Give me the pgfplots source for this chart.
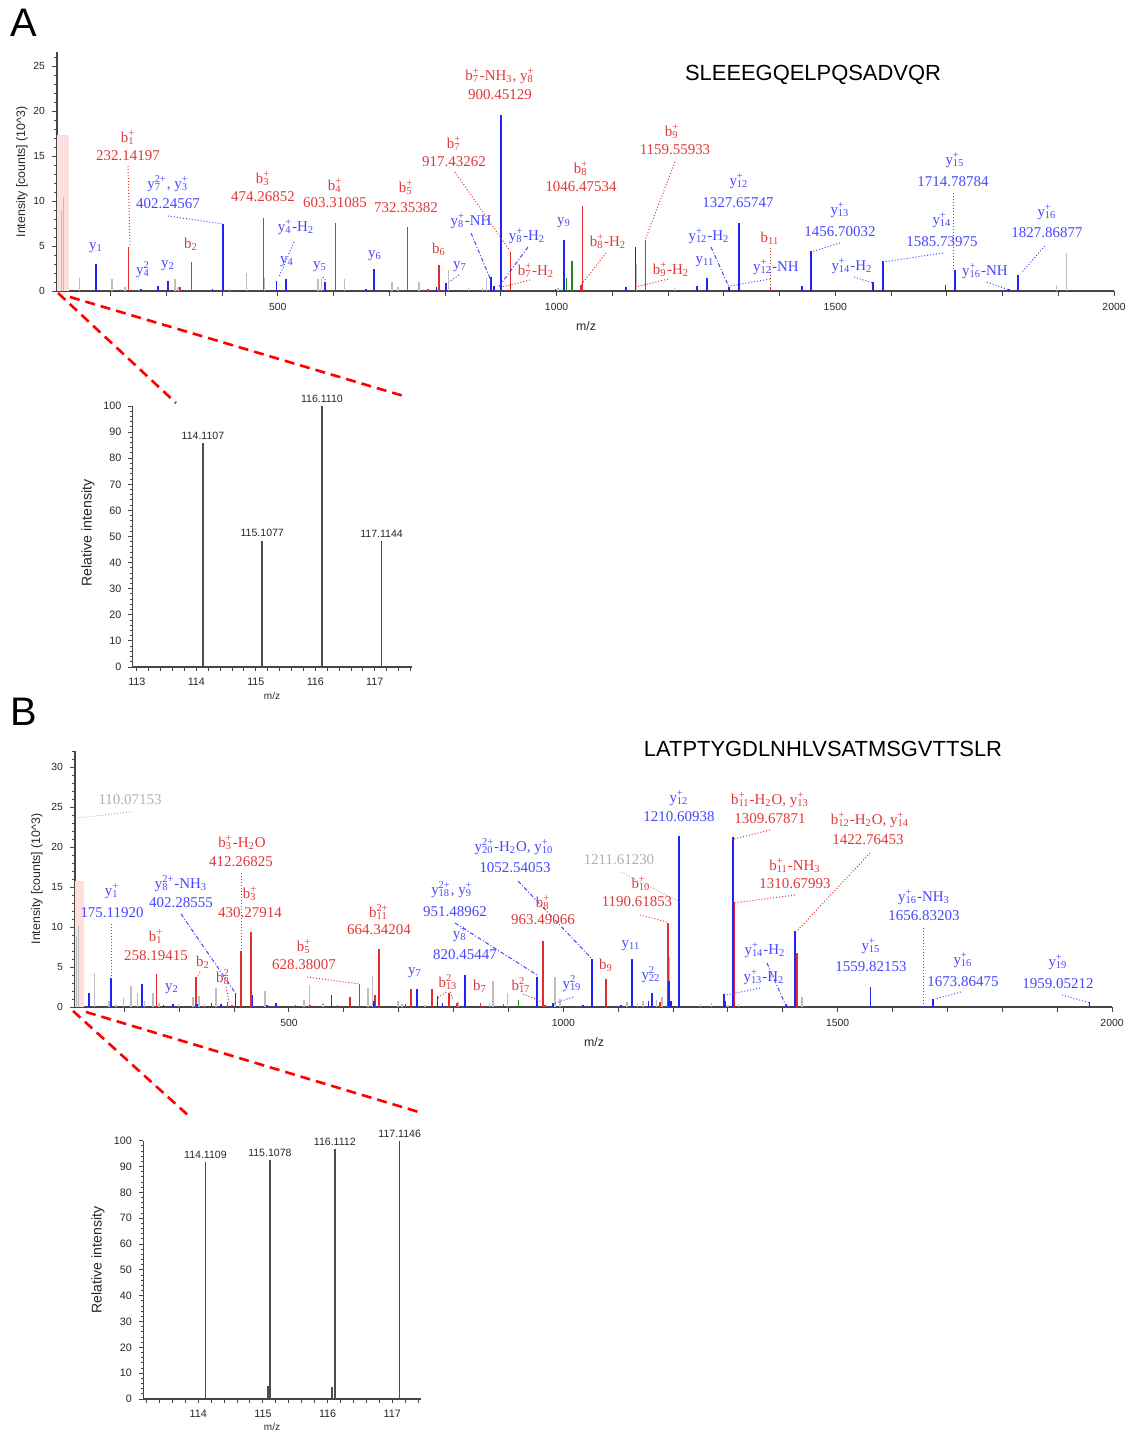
\documentclass[border=0pt]{standalone}
\usepackage{pgfplots}
\pgfplotsset{compat=1.18}
\usepackage{fontspec}
\setmainfont{Liberation Sans}
\newfontfamily\annfont{Liberation Serif}
\definecolor{ionblue}{RGB}{35,35,245}
\definecolor{ionred}{RGB}{225,45,45}
\definecolor{iongrey}{RGB}{190,190,190}
\definecolor{iongreen}{RGB}{30,140,30}
\definecolor{axgrey}{RGB}{70,70,70}
\definecolor{pinkbg}{RGB}{255,222,222}
\definecolor{txtblue}{RGB}{70,70,255}
\definecolor{txtred}{RGB}{225,55,55}
\definecolor{txtgrey}{RGB}{175,175,175}
\NewCommandCopy\oldsub\textsubscript
\NewCommandCopy\oldsup\textsuperscript
\RenewDocumentCommand\textsubscript{m}{\smash{\oldsub{#1}}}
\RenewDocumentCommand\textsuperscript{m}{\smash{\oldsup{#1}}}
\newcommand\sbsp[2]{\setbox0\hbox{\textsubscript{#1}}\setbox2\hbox{\textsuperscript{#2}}\ifdim\wd0>\wd2 \rlap{\copy2}\copy0\else\rlap{\copy0}\copy2\fi}
\pgfplotsset{
 msaxis/.style={scale only axis, axis lines=left, axis line style={axgrey,line width=0.6bp,-},
   tick style={axgrey,line width=0.5bp}, tick align=outside, major tick length=2.5bp, minor tick length=1.5bp,
   clip=false, ymin=0, tick label style={font=\fontsize{5.2}{6}\selectfont, text=black!85}},
 inaxis/.style={msaxis, major tick length=2.2bp, minor tick length=1.4bp,
   tick label style={font=\fontsize{5.4}{6}\selectfont, text=black!85}},
 gpk/.style={ycomb, no marks, iongrey, line width=0.7bp},
 rpk/.style={ycomb, no marks, ionred, line width=0.8bp},
 bpk/.style={ycomb, no marks, ionblue, line width=0.8bp},
 npk/.style={ycomb, no marks, iongreen, line width=0.8bp},
 ipk/.style={ycomb, no marks, black!70, line width=0.8bp},
}
\tikzset{
 ann/.style={font=\annfont\fontsize{7.5}{8}\selectfont, inner sep=0pt, anchor=center},
 rl/.style={ann, text=txtred}, bl/.style={ann, text=txtblue}, gl/.style={ann, text=txtgrey},
 rld/.style={txtred, densely dotted, line width=0.5bp},
 bld/.style={txtblue, densely dotted, line width=0.5bp},
 bldd/.style={txtblue, dash pattern=on 2bp off 1bp on 0.5bp off 1bp, line width=0.5bp},
 gld/.style={txtgrey, densely dotted, line width=0.5bp},
 zoomln/.style={red, line width=1.3bp, dash pattern=on 5bp off 3bp},
 lab/.style={inner sep=0pt, font=\fontsize{6.2}{7}\selectfont, text=black!85},
 ilab/.style={inner sep=0pt, font=\fontsize{7.1}{8}\selectfont, text=black!85},
}
\begin{document}
\begin{tikzpicture}
\useasboundingbox (0,0) rectangle (564.5bp,-716bp);
% ================= A main =================
\begin{axis}[msaxis, at={(28.5bp,-145.5bp)}, anchor=south west, width=528.5bp, height=119.5bp,
  xmin=104, xmax=2000, ymax=26.56,
  xtick={200,300,...,2000}, xticklabels={,,,500,,,,,1000,,,,,1500,,,,,2000},
  ytick={0,5,...,25}, yticklabels={0,5,10,15,20,25}, minor ytick={1,...,26}]
\addplot[draw=none, fill=pinkbg] coordinates {(104,17.3) (125,17.3)} \closedcycle;
\addplot[gpk] coordinates {(112,9.0)(116,10.5)(144,1.5)(203,1.3)(226,0.4)(250,0.2)(316,1.3)(321,0.4)(413,0.2)(444,2.0)(476,1.4)(572,1.3)(578,1.5)(620,1.3)(705,1.0)(716,0.5)(753,1.0)(806,2.3)(842,0.3)(867,0.3)(874,1.5)(1003,0.3)(1144,3.0)(1212,0.3)(1897,0.7)(1915,4.2)};
\addplot[rpk] coordinates {(232.14,4.9)(325,0.4)(345,3.2)(474.27,8.15)(603.31,7.6)(732.35,7.1)(770,0.2)(789,2.9)(917.43,4.3)(1027,0.8)(1044,0.7)(1046.48,9.4)(1159.56,5.7)(1384,0.3)};
\addplot[bpk] coordinates {(174,3.0)(255,0.2)(285,0.6)(303.2,1.15)(383,0.2)(402.25,7.45)(498,1.1)(515,1.35)(585,1.0)(658,0.2)(673,2.4)(785,0.5)(802,0.9)(883,1.6)(888,0.6)(900.45,19.55)(998,0.2)(1013,5.7)(1125,0.4)(1142,4.85)(1252,0.6)(1270,1.4)(1309,0.4)(1327.66,7.6)(1440,0.6)(1456.70,4.4)(1568,1.0)(1585.74,3.3)(1698,0.7)(1714.79,2.3)(1812,0.2)(1827.87,1.8)};
\addplot[npk] coordinates {(1018,1.4)(1028,3.3)};
\end{axis}
% ================= A inset =================
\begin{axis}[inaxis, at={(66.35bp,-333.5bp)}, anchor=south west, width=139.5bp, height=130.5bp,
  xmin=112.93, xmax=117.62, ymax=100,
  xtick={113,113.2,113.4,113.6,113.8,114,114.2,114.4,114.6,114.8,115,115.2,115.4,115.6,115.8,116,116.2,116.4,116.6,116.8,117,117.2,117.4,117.6},
  xticklabels={113,,,,,114,,,,,115,,,,,116,,,,,117,,,},
  ytick={0,10,...,100}, yticklabels={0,10,20,30,40,50,60,70,80,90,100}, minor ytick={0,2,...,100}]
\addplot[ipk] coordinates {(114.1107,85.9)(115.1077,48.4)(116.1110,100)(117.1144,48.4)};
\node[anchor=south, inner sep=0pt, font=\fontsize{5.3}{6}\selectfont, text=black!85, yshift=1.6bp] at (axis cs:114.1107,85.9) {114.1107};
\node[anchor=south, inner sep=0pt, font=\fontsize{5.3}{6}\selectfont, text=black!85, yshift=1.6bp] at (axis cs:115.1077,48.4) {115.1077};
\node[anchor=south, inner sep=0pt, font=\fontsize{5.3}{6}\selectfont, text=black!85, yshift=1.6bp] at (axis cs:116.1110,100) {116.1110};
\node[anchor=south, inner sep=0pt, font=\fontsize{5.3}{6}\selectfont, text=black!85, yshift=1.6bp] at (axis cs:117.1144,48.4) {117.1144};
\end{axis}
% ================= B main =================
\begin{axis}[msaxis, at={(37.5bp,-503.5bp)}, anchor=south west, width=518.5bp, height=128bp,
  xmin=110, xmax=2000, ymax=32,
  xtick={200,300,...,2000}, xticklabels={,,,500,,,,,1000,,,,,1500,,,,,2000},
  ytick={0,5,...,30}, yticklabels={0,5,10,15,20,25,30}, minor ytick={1,...,32}]
\addplot[draw=none, fill=pinkbg] coordinates {(110,15.7) (126,15.7)} \closedcycle;
\addplot[gpk] coordinates {(113,8.9)(116,10.3)(146,4.25)(172,0.7)(185,0.3)(198,1.1)(212,2.6)(224,1.75)(237,0.8)(252,1.8)(263,0.5)(299,0.4)(325,1.3)(336,1.4)(346,0.4)(367,2.4)(456,2.0)(527,0.9)(537,2.8)(562,0.5)(644,2.4)(652,3.9)(699,0.7)(706,0.4)(748,0.3)(808,0.6)(865,0.5)(872,3.3)(898,1.7)(985,3.7)(994,1.0)(1116,0.6)(1135,0.5)(1145,0.8)(1170,0.9)(1180,1.2)(1194,6.25)(1211.61,13.2)(1250,0.4)(1270,0.5)(1300,0.3)(1319,0.4)(1435,1.2)};
\addplot[rpk] coordinates {(258.19,4.1)(330.6,3.75)(388,0.6)(396,0.2)(412.27,7.0)(430.28,9.4)(512,0.2)(538.5,0.2)(588.6,0.2)(611,1.3)(628.38,2.9)(657,1.5)(664.34,7.2)(712,0.4)(722,2.2)(761,2.3)(792,1.75)(806,0.5)(822,1.3)(849,0.5)(891,0.4)(963.49,8.25)(967,0.3)(1078,3.5)(1176,0.6)(1190.62,10.5)(1310.68,13.1)};
\addplot[bpk] coordinates {(136,1.75)(175.12,3.6)(232,2.9)(271.5,0.3)(289,0.4)(332,0.4)(359,0.5)(376,0.4)(402.29,1.65)(433.6,1.5)(460,0.3)(476.5,0.5)(577.5,1.45)(655,0.8)(733,2.25)(771,1.35)(780,0.5)(820.45,4.05)(951.49,3.7)(981.5,0.45)(1035.6,0.3)(1052.54,6.05)(1104.8,0.3)(1125,5.95)(1155,0.8)(1162,1.75)(1193,3.2)(1196,0.8)(1210.61,21.4)(1293,1.65)(1295,0.8)(1309.68,21.2)(1407,0.35)(1422.76,9.55)(1559.82,2.55)(1658,0.15)(1673.86,1.0)(1959.05,0.65)};
\addplot[rpk] coordinates {(1425.6,6.7)};
\addplot[npk] coordinates {(918,0.9)};
\end{axis}
% ================= B inset =================
\begin{axis}[inaxis, at={(71.65bp,-699.5bp)}, anchor=south west, width=138.7bp, height=129.15bp,
  xmin=113.15, xmax=117.44, ymax=100,
  xtick={113.2,113.4,113.6,113.8,114,114.2,114.4,114.6,114.8,115,115.2,115.4,115.6,115.8,116,116.2,116.4,116.6,116.8,117,117.2,117.4},
  xticklabels={,,,,114,,,,,115,,,,,116,,,,,117,,},
  ytick={0,10,...,100}, yticklabels={0,10,20,30,40,50,60,70,80,90,100}, minor ytick={0,2,...,100}]
\addplot[ipk] coordinates {(114.1109,91.6)(115.0800,4.9)(115.1078,92.5)(116.0700,4.5)(116.1112,96.8)(117.1146,100)};
\node[anchor=south, inner sep=0pt, font=\fontsize{5.3}{6}\selectfont, text=black!85, yshift=1.6bp] at (axis cs:114.1109,91.6) {114.1109};
\node[anchor=south, inner sep=0pt, font=\fontsize{5.3}{6}\selectfont, text=black!85, yshift=1.6bp] at (axis cs:115.1078,92.5) {115.1078};
\node[anchor=south, inner sep=0pt, font=\fontsize{5.3}{6}\selectfont, text=black!85, yshift=1.6bp] at (axis cs:116.1112,96.8) {116.1112};
\node[anchor=south, inner sep=0pt, font=\fontsize{5.3}{6}\selectfont, text=black!85, yshift=1.6bp] at (axis cs:117.1146,100) {117.1146};
\end{axis}
% ================= annotations (pixel grid) =================
\begin{scope}[x=0.5bp,y=-0.5bp]
\node[inner sep=0pt, font=\fontsize{20}{22}\selectfont] at (24,23) {A};
\node[inner sep=0pt, font=\fontsize{20}{22}\selectfont] at (24,712) {B};
\node[inner sep=0pt, font=\fontsize{11}{13}\selectfont] at (813,75) {SLEEEGQELPQSADVQR};
\node[inner sep=0pt, font=\fontsize{11}{13}\selectfont] at (823,749) {LATPTYGDLNHLVSATMSGVTTSLR};
\node[lab, rotate=90] at (22,172) {Intensity [counts] (10\^{}3)};
\node[lab] at (586,326) {m/z};
\node[lab, rotate=90] at (37,879) {Intensity [counts] (10\^{}3)};
\node[lab] at (594,1042) {m/z};
\node[ilab, rotate=90] at (88,533) {Relative intensity};
\node[inner sep=0pt, font=\fontsize{5}{6}\selectfont, text=black!85] at (272,696) {m/z};
\node[ilab, rotate=90] at (98,1260) {Relative intensity};
\node[inner sep=0pt, font=\fontsize{5}{6}\selectfont, text=black!85] at (272,1427) {m/z};
\draw[zoomln] (58,293) -- (176,403);
\draw[zoomln] (70,297) -- (407,397);
\draw[zoomln] (73,1011) -- (190,1117);
\draw[zoomln] (86,1012) -- (422,1113);
% ---- A red
\node[rl] at (128,137) {b\sbsp{1}{+}};
\node[rl] at (128,156) {232.14197};
\draw[rld] (128,166) -- (130,247);
\node[rl] at (263,178) {b\sbsp{3}{+}};
\node[rl] at (263,197) {474.26852};
\node[rl] at (335,185) {b\sbsp{4}{+}};
\node[rl] at (335,203) {603.31085};
\node[rl] at (406,187) {b\sbsp{5}{+}};
\node[rl] at (406,208) {732.35382};
\node[rl] at (500,77) {b\sbsp{7}{+}-NH\textsubscript{3}, y\sbsp{8}{+}};
\node[rl] at (500,95) {900.45129};
\node[rl] at (454,143) {b\sbsp{7}{+}};
\node[rl] at (454,162) {917.43262};
\draw[rld] (455,172) -- (510,251);
\node[rl] at (581,168) {b\sbsp{8}{+}};
\node[rl] at (581,187) {1046.47534};
\node[rl] at (672,131) {b\sbsp{9}{+}};
\node[rl] at (675,150) {1159.55933};
\draw[rld] (675,162) -- (645,240);
\node[rl] at (191,243) {b\textsubscript{2}};
\node[rl] at (439,248) {b\textsubscript{6}};
\node[rl] at (536,270) {b\sbsp{7}{+}-H\textsubscript{2}};
\draw[rld] (530,280) -- (502,287);
\node[rl] at (608,241) {b\sbsp{8}{+}-H\textsubscript{2}};
\draw[rld] (606,253) -- (581,285);
\node[rl] at (671,269) {b\sbsp{9}{+}-H\textsubscript{2}};
\draw[rld] (668,279) -- (636,287);
\node[rl] at (770,237) {b\textsubscript{11}};
\draw[rld] (771,248) -- (771,291);
% ---- A blue
\node[bl] at (96,248) {y\textsubscript{1}};
\node[bl] at (143,273) {y\sbsp{4}{2}};
\node[bl] at (168,266) {y\textsubscript{2}};
\node[bl] at (168,187) {y\sbsp{7}{2+}, y\sbsp{3}{+}};
\node[bl] at (168,204) {402.24567};
\draw[bld] (168,216) -- (223,224);
\node[bl] at (296,228) {y\sbsp{4}{+}-H\textsubscript{2}};
\draw[bld] (294,242) -- (279,277);
\node[bl] at (287,262) {y\textsubscript{4}};
\node[bl] at (320,267) {y\textsubscript{5}};
\draw[bld] (323,277) -- (326,281);
\node[bl] at (375,256) {y\textsubscript{6}};
\node[bl] at (460,267) {y\textsubscript{7}};
\draw[bld] (459,275) -- (449,282);
\node[bl] at (471,222) {y\sbsp{8}{+}-NH};
\draw[bldd] (471,233) -- (492,283);
\node[bl] at (527,237) {y\sbsp{8}{+}-H\textsubscript{2}};
\draw[bldd] (528,247) -- (498,288);
\node[bl] at (564,223) {y\textsubscript{9}};
\node[bl] at (739,184) {y\sbsp{12}{+}};
\node[bl] at (738,203) {1327.65747};
\node[bl] at (709,237) {y\sbsp{12}{+}-H\textsubscript{2}};
\draw[bldd] (711,247) -- (729,287);
\node[bl] at (705,262) {y\textsubscript{11}};
\node[bl] at (776,268) {y\sbsp{12}{+}-NH};
\draw[bld] (770,279) -- (730,286);
\node[bl] at (840,213) {y\sbsp{13}{+}};
\node[bl] at (840,232) {1456.70032};
\draw[bld] (840,243) -- (811,252);
\node[bl] at (852,267) {y\sbsp{14}{+}-H\textsubscript{2}};
\draw[bld] (854,277) -- (873,283);
\node[bl] at (942,223) {y\sbsp{14}{+}};
\node[bl] at (942,242) {1585.73975};
\draw[bld] (943,253) -- (883,262);
\node[bl] at (955,163) {y\sbsp{15}{+}};
\node[bl] at (953,182) {1714.78784};
\draw[bld] (954,193) -- (954,270);
\node[bl] at (985,272) {y\sbsp{16}{+}-NH};
\draw[bld] (987,282) -- (1009,290);
\node[bl] at (1047,215) {y\sbsp{16}{+}};
\node[bl] at (1047,233) {1827.86877};
\draw[bld] (1045,246) -- (1022,272);
% ---- B grey
\node[gl] at (130,800) {110.07153};
\draw[gld] (130,812) -- (77,818);
\node[gl] at (619,860) {1211.61230};
\draw[gld] (621,872) -- (680,902);
% ---- B blue
\node[bl] at (112,894) {y\sbsp{1}{+}};
\node[bl] at (112,913) {175.11920};
\draw[bld] (112,924) -- (112,978);
\node[bl] at (181,885) {y\sbsp{8}{2+}-NH\textsubscript{3}};
\node[bl] at (181,903) {402.28555};
\draw[bldd] (181,914) -- (236,994);
\node[bl] at (172,989) {y\textsubscript{2}};
\node[bl] at (415,973) {y\textsubscript{7}};
\node[bl] at (452,893) {y\sbsp{18}{2+}, y\sbsp{9}{+}};
\node[bl] at (455,912) {951.48962};
\draw[bldd] (455,923) -- (537,975);
\node[bl] at (460,937) {y\sbsp{8}{+}};
\node[bl] at (465,955) {820.45447};
\node[bl] at (514,848) {y\sbsp{20}{2+}-H\textsubscript{2}O, y\sbsp{10}{+}};
\node[bl] at (515,868) {1052.54053};
\draw[bldd] (518,881) -- (592,959);
\node[bl] at (572,987) {y\sbsp{19}{2}};
\draw[bld] (573,997) -- (553,1004);
\node[bl] at (631,946) {y\textsubscript{11}};
\node[bl] at (651,978) {y\sbsp{22}{2}};
\node[bl] at (679,801) {y\sbsp{12}{+}};
\node[bl] at (679,817) {1210.60938};
\node[bl] at (765,951) {y\sbsp{14}{+}-H\textsubscript{2}};
\draw[bldd] (767,963) -- (786,1006);
\node[bl] at (764,978) {y\sbsp{13}{+}-H\textsubscript{2}};
\draw[bld] (760,988) -- (726,995);
\node[bl] at (871,949) {y\sbsp{15}{+}};
\node[bl] at (871,967) {1559.82153};
\node[bl] at (924,898) {y\sbsp{16}{+}-NH\textsubscript{3}};
\node[bl] at (924,916) {1656.83203};
\draw[bld] (924,928) -- (924,1007);
\node[bl] at (963,963) {y\sbsp{16}{+}};
\node[bl] at (963,982) {1673.86475};
\draw[bld] (961,992) -- (935,999);
\node[bl] at (1058,965) {y\sbsp{19}{+}};
\node[bl] at (1058,984) {1959.05212};
\draw[bld] (1062,995) -- (1090,1003);
% ---- B red
\node[rl] at (242,842) {b\sbsp{3}{+}-H\textsubscript{2}O};
\node[rl] at (241,862) {412.26825};
\draw[rld] (242,873) -- (242,951);
\node[rl] at (250,893) {b\sbsp{3}{+}};
\node[rl] at (250,913) {430.27914};
\node[rl] at (156,936) {b\sbsp{1}{+}};
\node[rl] at (156,956) {258.19415};
\node[rl] at (203,961) {b\textsubscript{2}};
\draw[rld] (200,972) -- (197,977);
\node[rl] at (223,977) {b\sbsp{8}{2}};
\draw[rld] (226,987) -- (229,1002);
\node[rl] at (304,946) {b\sbsp{5}{+}};
\node[rl] at (304,965) {628.38007};
\draw[rld] (307,977) -- (360,984);
\node[rl] at (379,912) {b\sbsp{11}{2+}};
\node[rl] at (379,930) {664.34204};
\node[rl] at (448,982) {b\sbsp{13}{2}};
\draw[rld] (446,992) -- (438,998);
\draw[rld] (450,992) -- (453,999);
\node[rl] at (480,985) {b\textsubscript{7}};
\node[rl] at (521,985) {b\sbsp{17}{2}};
\draw[rld] (523,994) -- (545,1003);
\node[rl] at (543,902) {b\sbsp{8}{+}};
\node[rl] at (543,920) {963.49066};
\node[rl] at (606,964) {b\textsubscript{9}};
\node[rl] at (641,883) {b\sbsp{10}{+}};
\node[rl] at (637,902) {1190.61853};
\draw[rld] (640,915) -- (667,922);
\node[rl] at (770,801) {b\sbsp{11}{+}-H\textsubscript{2}O, y\sbsp{13}{+}};
\node[rl] at (770,819) {1309.67871};
\draw[rld] (770,830) -- (734,839);
\node[rl] at (795,865) {b\sbsp{11}{+}-NH\textsubscript{3}};
\node[rl] at (795,884) {1310.67993};
\draw[rld] (795,895) -- (734,903);
\node[rl] at (870,821) {b\sbsp{12}{+}-H\textsubscript{2}O, y\sbsp{14}{+}};
\node[rl] at (868,840) {1422.76453};
\draw[rld] (870,853) -- (796,932);
\end{scope}
\end{tikzpicture}
\end{document}
